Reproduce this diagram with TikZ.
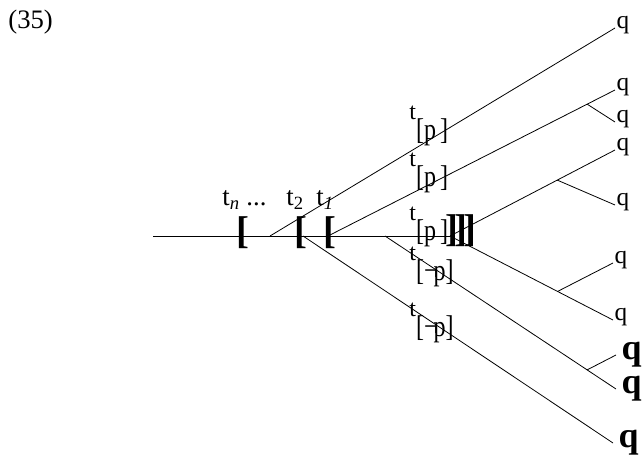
\documentclass[tikz,border=0pt]{standalone}
\usepackage{fontspec}
\setmainfont{Liberation Serif}
\usetikzlibrary{calc}

\tikzset{
  leaf/.style={anchor=base west, inner sep=1pt, font=\fontsize{19}{21}\selectfont},
  boldleaf/.style={anchor=west, inner sep=4pt, font=\fontsize{27}{29}\selectfont\bfseries},
  bracketmark/.style={inner sep=0pt, font=\fontsize{29}{31}\selectfont\bfseries},
  timelabel/.style={anchor=base west, inner sep=0pt, font=\fontsize{20}{22}\selectfont},
  branchlabel/.style={anchor=base west, inner sep=0pt},
}
\newcommand{\tbranch}[1]{{\fontsize{18}{20}\selectfont t}\raisebox{-15pt}{\fontsize{18}{20}\selectfont\scalebox{1}[1.25]{[#1]}}}

\begin{document}
\begin{tikzpicture}[x=0.75pt, y=-0.75pt, line width=0.6pt]
        \useasboundingbox (0,0) rectangle (643,465);

        % Draw the example number
        \node[timelabel] (exnum) at (8,28) {(35)};

        % Draw the time labels and brackets
        \node[timelabel] (timen) at (222,205) {t\textsubscript{\textit{n}} ...};
        \node[timelabel] (time2) at (286,205) {t\textsubscript{2}};
        \node[timelabel] (time1) at (316,205) {t\textsubscript{\textit{1}}};
        \node[bracketmark] (openn) at (243,233) {[};
        \node[bracketmark] (open2) at (301,233) {[};
        \node[bracketmark] (open1) at (330,233) {[};
        \node[bracketmark] (closeall) at (461,231) {]\kern-3pt]\kern-3pt]};

        % Draw the leaves
        \node[leaf] (q1) at (615,28) {q};
        \node[leaf] (q2) at (615,90) {q};
        \node[leaf] (q3) at (615,122) {q};
        \node[leaf] (q4) at (615,150) {q};
        \node[leaf] (q5) at (615,205) {q};
        \node[leaf] (q6) at (613,263) {q};
        \node[leaf] (q7) at (613,320) {q};
        \node[boldleaf] (q8) at (616,355) {q};
        \node[boldleaf] (q9) at (616,389) {q};
        \node[boldleaf] (q10) at (613,443) {q};

        % Draw the trunk and its forks
        \coordinate (start) at (153,236);
        \coordinate (fork1) at (270,236);
        \coordinate (fork2) at (303,236);
        \coordinate (fork3) at (328,236);
        \coordinate (fork4) at (385,236);
        \coordinate (fork5) at (450,236);
        \draw (start) -- (fork5);

        \draw (fork1) -- (q1.base west);
        \draw (fork3) -- (q2.base west);
        \draw (fork5) -- (q4.base west);
        \draw (fork5) -- (q7.base west);
        \draw (fork4) -- (q9.west);
        \draw (fork2) -- (q10.west);

        % Draw the side branches
        \coordinate (split2) at ($(fork3)!0.903!(q2.base west)$);
        \coordinate (split3) at ($(fork5)!0.65!(q4.base west)$);
        \coordinate (split4) at ($(fork5)!0.66!(q7.base west)$);
        \coordinate (split5) at ($(fork4)!0.875!(q9.west)$);
        \draw (split2) -- (q3.base west);
        \draw (split3) -- (q5.base west);
        \draw (split4) -- (q6.base west);
        \draw (split5) -- (q8.west);

        % Add labels on the branches
        \node[branchlabel] (lab1) at (409,119) {\tbranch{p\,}};
        \node[branchlabel] (lab2) at (409,166) {\tbranch{p\,}};
        \node[branchlabel] (lab3) at (409,220) {\tbranch{p\,}};
        \node[branchlabel] (lab4) at (409,260) {\tbranch{¬\kern-3pt p}};
        \node[branchlabel] (lab5) at (409,316) {\tbranch{¬\kern-3pt p}};

    \end{tikzpicture}
\end{document}
